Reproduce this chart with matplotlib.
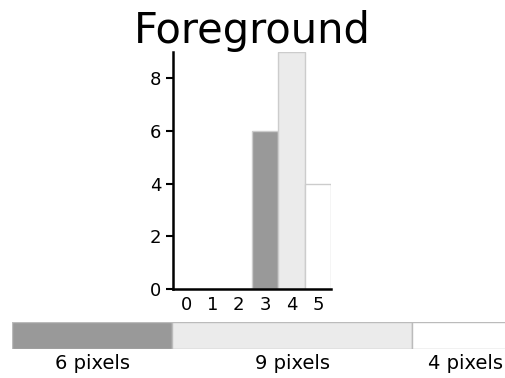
import matplotlib
matplotlib.use('Agg')
import matplotlib.pyplot as plt

# pixel counts per intensity level in the foreground
levels = [0, 1, 2, 3, 4, 5]
counts = [0, 0, 0, 6, 9, 4]
level_colors = ['#000000', '#333333', '#666666', '#999999', '#ebebeb', '#ffffff']

# strip below: only the levels that occur
strip_counts = [6, 9, 4]
strip_colors = ['#999999', '#ebebeb', '#ffffff']
strip_labels = ['6 pixels', '9 pixels', '4 pixels']

fig = plt.figure(figsize=(5.06, 3.78), dpi=100)

ax = fig.add_axes([173 / 506, 89 / 378, 158 / 506, 237 / 378])
ax.bar(levels, counts, width=1.0, color=level_colors, edgecolor='#cccccc', linewidth=1)
ax.set_xlim(-0.5, 5.5)
ax.set_ylim(0, 9)
ax.set_xticks(levels)
ax.set_yticks([0, 2, 4, 6, 8])
for side in ('top', 'right'):
    ax.spines[side].set_visible(False)
for side in ('left', 'bottom'):
    ax.spines[side].set_linewidth(1.8)
ax.tick_params(axis='y', labelsize=13, width=1.5, length=5)
ax.tick_params(axis='x', labelsize=13, length=0, pad=5)
ax.set_title('Foreground', fontsize=30, pad=6)

# colour strip, runs off the right edge of the figure
sx = fig.add_axes([12 / 506, 29 / 378, 507 / 506, 27 / 378])
left = 0
for n, c, lab in zip(strip_counts, strip_colors, strip_labels):
    sx.barh(0, n, left=left, height=1, color=c, edgecolor='#bbbbbb', linewidth=1)
    sx.text(left + n / 2, -0.68, lab, ha='center', va='top', fontsize=14)
    left += n
sx.set_xlim(0, 19)
sx.set_ylim(-0.5, 0.5)
sx.axis('off')

fig.savefig('out.png', dpi=100)
